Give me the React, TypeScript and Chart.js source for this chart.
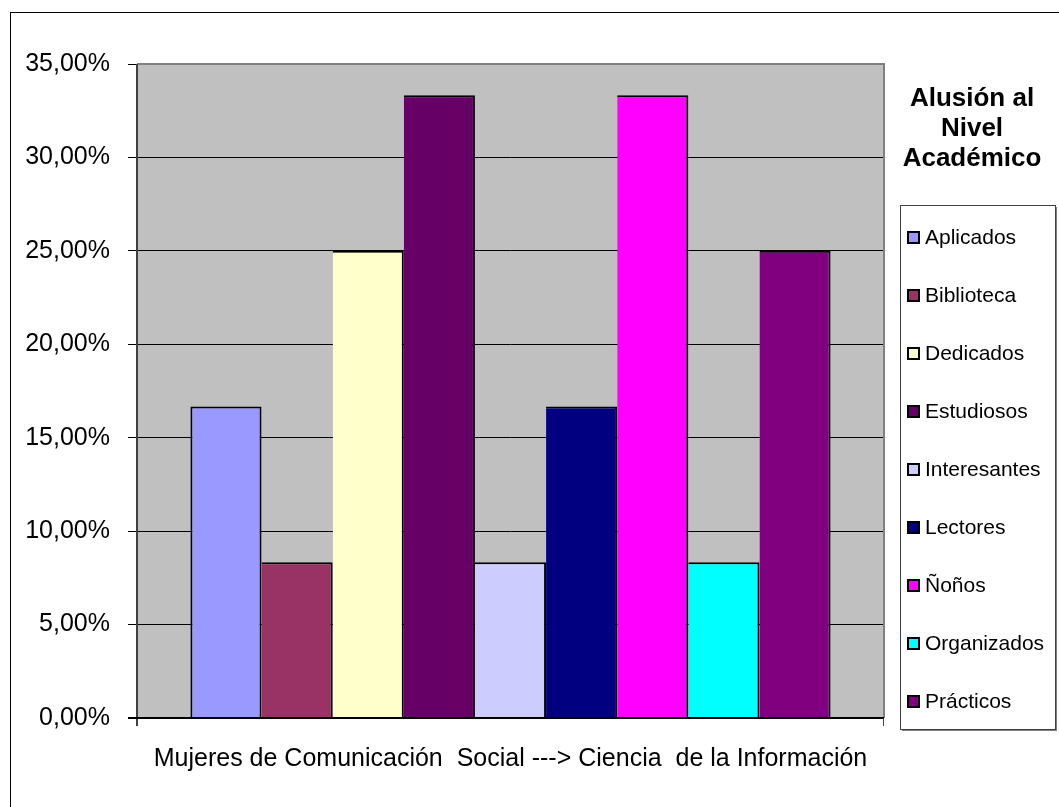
import React, { useEffect, useRef } from "react";
import { Chart, registerables } from "chart.js";

Chart.register(...registerables);

const categories = ["Mujeres de Comunicación  Social ---> Ciencia  de la Información"];
const seriesNames = [
  "Aplicados",
  "Biblioteca",
  "Dedicados",
  "Estudiosos",
  "Interesantes",
  "Lectores",
  "Ñoños",
  "Organizados",
  "Prácticos",
];
const seriesValues = [16.67, 8.33, 25.0, 33.33, 8.33, 16.67, 33.33, 8.33, 25.0];
const seriesColors = [
  "#9999FF",
  "#993366",
  "#FFFFCC",
  "#660066",
  "#CCCCFF",
  "#000080",
  "#FF00FF",
  "#00FFFF",
  "#800080",
];
const legendTitle = ["Alusión al", "Nivel", "Académico"];
const yMin = 0;
const yMax = 35;
const yStep = 5;

const FONT = "Arial, 'Liberation Sans', sans-serif";

const decorPlugin = {
  id: "decor",
  beforeDraw(chart: any) {
    const { ctx, chartArea, width, height } = chart;
    ctx.save();
    ctx.fillStyle = "#FFFFFF";
    ctx.fillRect(0, 0, width, height);
    ctx.strokeStyle = "#000000";
    ctx.lineWidth = 1;
    ctx.strokeRect(10.5, 12.5, width + 20, height + 20);
    ctx.fillStyle = "#C0C0C0";
    ctx.fillRect(chartArea.left, chartArea.top, chartArea.right - chartArea.left, chartArea.bottom - chartArea.top);
    ctx.restore();
  },
  afterDatasetsDraw(chart: any) {
    const { ctx, chartArea } = chart;
    ctx.save();
    ctx.strokeStyle = "#808080";
    ctx.lineWidth = 2;
    ctx.beginPath();
    ctx.moveTo(chartArea.left, chartArea.top);
    ctx.lineTo(chartArea.right, chartArea.top);
    ctx.lineTo(chartArea.right, chartArea.bottom);
    ctx.stroke();
    ctx.strokeStyle = "#404040";
    ctx.beginPath();
    ctx.moveTo(chartArea.left, chartArea.top);
    ctx.lineTo(chartArea.left, chartArea.bottom + 8);
    ctx.stroke();
    ctx.strokeStyle = "#000000";
    ctx.beginPath();
    ctx.moveTo(chartArea.left - 9, chartArea.bottom);
    ctx.lineTo(chartArea.right, chartArea.bottom);
    ctx.stroke();
    ctx.strokeStyle = "#404040";
    ctx.lineWidth = 1;
    ctx.beginPath();
    ctx.moveTo(chartArea.right - 0.5, chartArea.bottom);
    ctx.lineTo(chartArea.right - 0.5, chartArea.bottom + 8);
    ctx.stroke();

    ctx.fillStyle = "#000000";
    ctx.textAlign = "center";
    ctx.textBaseline = "middle";
    ctx.font = `bold 26px ${FONT}`;
    const cx = 972;
    legendTitle.forEach((t, i) => ctx.fillText(t, cx, 99 + i * 30));

    const bx = 900, by = 205, bw = 155, bh = 524;
    ctx.fillStyle = "#808080";
    ctx.fillRect(bx + 2, by + bh, bw, 2);
    ctx.fillRect(bx + bw, by + 2, 2, bh);
    ctx.fillStyle = "#FFFFFF";
    ctx.fillRect(bx, by, bw, bh);
    ctx.strokeStyle = "#404040";
    ctx.lineWidth = 1;
    ctx.strokeRect(bx + 0.5, by + 0.5, bw, bh);

    ctx.textAlign = "left";
    ctx.font = `21px ${FONT}`;
    chart.data.datasets.forEach((ds: any, i: number) => {
      const y = 237 + i * 58;
      ctx.fillStyle = ds.backgroundColor;
      ctx.fillRect(907, y - 6, 13, 13);
      ctx.strokeStyle = "#000000";
      ctx.lineWidth = 2;
      ctx.strokeRect(908, y - 5, 11, 11);
      ctx.fillStyle = "#000000";
      ctx.fillText(ds.label, 925, y + 1);
    });
    ctx.restore();
  },
};

export default function App() {
  const ref = useRef<HTMLCanvasElement | null>(null);
  useEffect(() => {
    document.body.style.margin = "0";
    if (!ref.current) return;
    const chart = new Chart(ref.current, {
      type: "bar",
      data: {
        labels: categories,
        datasets: seriesNames.map((name, i) => ({
          label: name,
          data: [seriesValues[i]],
          backgroundColor: seriesColors[i],
          borderColor: "#000000",
          borderWidth: { top: 2, left: i === 0 ? 2 : 0, right: 2, bottom: 0 },
          borderSkipped: false,
          inflateAmount: 0,
          categoryPercentage: 0.857,
          barPercentage: 1,
        })),
      },
      options: {
        animation: false,
        responsive: false,
        devicePixelRatio: 1,
        layout: { padding: { left: 0, top: 64, right: 175, bottom: 0 } },
        plugins: {
          legend: { display: false },
          tooltip: { enabled: false },
          title: { display: false },
        },
        scales: {
          x: {
            grid: {
              display: true,
              drawOnChartArea: false,
              drawTicks: false,
              color: "#404040",
              tickLength: 8,
            },
            border: { display: false },
            ticks: {
              color: "#000000",
              font: { family: FONT, size: 25 },
              padding: 26,
            },
            afterFit(scale: any) {
              scale.height = 89;
            },
          },
          y: {
            min: yMin,
            max: yMax,
            grid: {
              color: "#000000",
              lineWidth: 1,
              tickLength: 9,
              tickColor: "#000000",
            },
            border: { display: false },
            ticks: {
              stepSize: yStep,
              color: "#000000",
              font: { family: FONT, size: 25 },
              padding: 18,
              callback: (v: any) => Number(v).toFixed(2).replace(".", ",") + "%",
            },
            afterFit(scale: any) {
              scale.width = 137;
            },
          },
        },
      },
      plugins: [decorPlugin],
    });
    return () => chart.destroy();
  }, []);
  return (
    <div style={{ width: 1059, height: 807, position: "relative" }}>
      <canvas ref={ref} width={1059} height={807} style={{ display: "block" }} />
    </div>
  );
}
